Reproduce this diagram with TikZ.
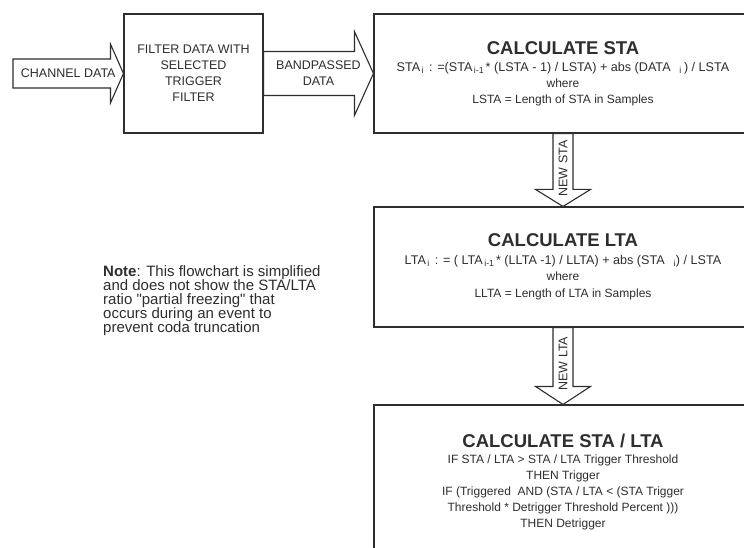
\documentclass[tikz,border=0pt]{standalone}
\usepackage{fontspec}
\setmainfont{Liberation Sans}[Ligatures=TeXOff]
\usetikzlibrary{calc,positioning}
\definecolor{ink}{HTML}{2E2E2E}
\newcommand{\titf}{\bfseries\fontsize{18.5}{20}\selectfont}
\newcommand{\bodf}{\fontsize{12}{16}\selectfont}
\newcommand{\frmf}{\fontsize{12.6}{16}\selectfont}
\newcommand{\sub}[1]{\textsubscript{\,#1\,}}
\tikzset{box/.style={draw=ink,line width=1.1pt,fill=white,text=ink,align=center,inner sep=0pt,font=\bodf},
  blk/.style={draw=ink,line width=1.1pt,fill=white,line join=miter},
  lbl/.style={text=ink,align=center,inner sep=0pt,font=\fontsize{12.5}{16}\selectfont}}
% block arrow pointing right: tail, tip, shaft half, head half, head length
\newcommand{\harrow}[5]{%
\draw[blk] ($(#1)+(0,#3)$) -- ($(#2)+(-#5,#3)$) -- ($(#2)+(-#5,#4)$) -- (#2)
 -- ($(#2)+(-#5,-#4)$) -- ($(#2)+(-#5,-#3)$) -- ($(#1)+(0,-#3)$) -- cycle;}
% block arrow pointing down
\newcommand{\varrow}[5]{%
\draw[blk] ($(#1)+(#3,0)$) -- ($(#2)+(#3,-#5)$) -- ($(#2)+(#4,-#5)$) -- (#2)
 -- ($(#2)+(-#4,-#5)$) -- ($(#2)+(-#3,-#5)$) -- ($(#1)+(-#3,0)$) -- cycle;}
\begin{document}
\begin{tikzpicture}[x=1pt,y=-1pt]
\useasboundingbox[fill=white] (0,0) rectangle (744,548);
\node[box,minimum width=139pt,minimum height=119pt,font=\fontsize{12.5}{16}\selectfont] (filt) at (193.5,73.5)
 {FILTER DATA WITH\\SELECTED\\TRIGGER\\FILTER};
\node[box,minimum width=378pt,minimum height=119pt] (sta) at (563,73.5)
 {{\titf CALCULATE STA}\\[1pt]
  \frmf STA\sub{i} : =(STA\sub{i-1}* (LSTA - 1) / LSTA) + abs (DATA\textsubscript{\quad i}\,) / LSTA\\
  where\\ LSTA = Length of STA in Samples};
\node[box,minimum width=378pt,minimum height=120pt] (lta) at (563,267)
 {{\titf CALCULATE LTA}\\[2pt]
  \frmf LTA\sub{i} : = ( LTA\sub{i-1}* (LLTA -1) / LLTA) + abs (STA\textsubscript{\quad i}) / LSTA\\
  where\\[1pt] LLTA = Length of LTA in Samples};
\node[box,minimum width=378pt,minimum height=154pt] (ratio) at (563,482)
 {{\titf CALCULATE STA / LTA}\\[0pt]
  IF STA / LTA > STA / LTA Trigger Threshold\\
  THEN Trigger\\
  IF (Triggered\ \ AND (STA / LTA < (STA Trigger\\
  Threshold * Detrigger Threshold Percent )))\\
  THEN Detrigger};
\coordinate (in) at (13,73.5);
\harrow{in}{filt.west}{14.5}{29.5}{13}
\harrow{filt.east}{sta.west}{22}{42}{19}
\varrow{sta.south}{lta.north}{10}{27.5}{17}
\varrow{lta.south}{ratio.north}{10}{27.5}{18}
\node[lbl] (chan) at ($(in)!.5!(filt.west)$) {CHANNEL DATA};
\node[lbl] (band) at ($(filt.east)!.5!(sta.west)$) {BANDPASSED\\DATA};
\node[lbl,rotate=90] (nsta) at ($(sta.south)+(0,35)$) {NEW STA};
\node[lbl,rotate=90] (nlta) at ($(lta.south)+(0,36)$) {NEW LTA};
\node[text=ink,align=left,anchor=north west,inner sep=0pt,font=\fontsize{15}{14}\selectfont] (note) at (103,265)
 {\textbf{Note}: This flowchart is simplified\\and does not show the STA/LTA\\ratio "partial freezing" that\\occurs during an event to\\prevent coda truncation};
\end{tikzpicture}
\end{document}
